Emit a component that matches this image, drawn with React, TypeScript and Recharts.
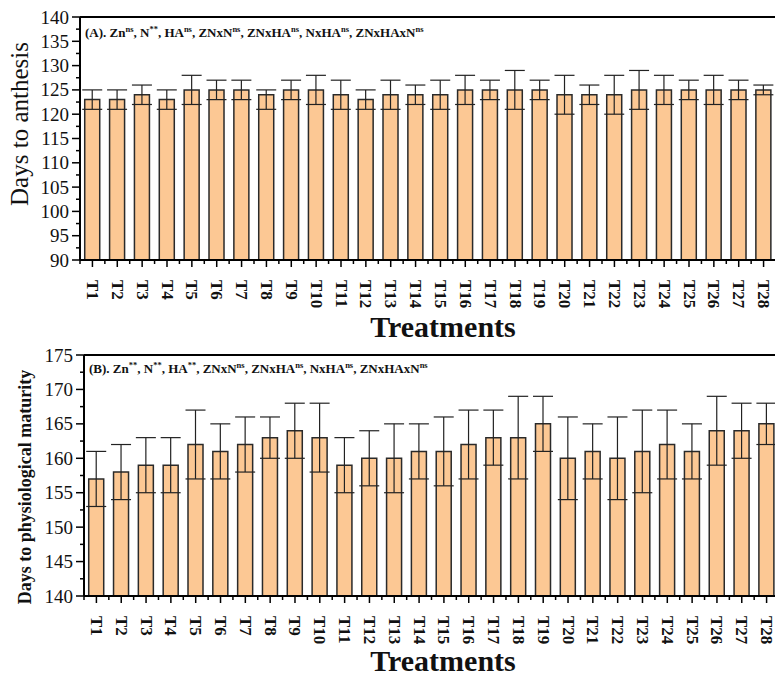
import { BarChart, Bar, XAxis, YAxis, ErrorBar, ReferenceLine } from "recharts";

const treatments = [
  "T1", "T2", "T3", "T4", "T5", "T6", "T7", "T8", "T9", "T10", "T11", "T12", "T13", "T14",
  "T15", "T16", "T17", "T18", "T19", "T20", "T21", "T22", "T23", "T24", "T25", "T26", "T27", "T28",
];

// (A) days to anthesis
const anthesis = [
  123, 123, 124, 123, 125, 125, 125, 124, 125, 125, 124, 123, 124, 124,
  124, 125, 125, 125, 125, 124, 124, 124, 125, 125, 125, 125, 125, 125,
];
// [lower, upper]
const anthesisErr = [
  [2, 2], [2, 2], [2, 2], [2, 2], [3, 3], [2, 2], [2, 2], [3, 1], [2, 2], [3, 3], [3, 3], [2, 2], [3, 3], [2, 2],
  [3, 3], [3, 3], [2, 2], [4, 4], [2, 2], [4, 4], [2, 2], [4, 4], [4, 4], [3, 3], [2, 2], [3, 3], [2, 2], [1, 1],
];

// (B) days to physiological maturity
const maturity = [
  157, 158, 159, 159, 162, 161, 162, 163, 164, 163, 159, 160, 160, 161,
  161, 162, 163, 163, 165, 160, 161, 160, 161, 162, 161, 164, 164, 165,
];
const maturityErr = [
  [4, 4], [4, 4], [4, 4], [4, 4], [5, 5], [4, 4], [4, 4], [3, 3], [4, 4], [5, 5], [4, 4], [4, 4], [5, 5], [4, 4],
  [5, 5], [5, 5], [4, 4], [6, 6], [4, 4], [6, 6], [4, 4], [6, 6], [6, 6], [5, 5], [4, 4], [5, 5], [4, 4], [3, 3],
];

const anthesisTicks = [
  90, 92.5, 95, 97.5, 100, 102.5, 105, 107.5, 110, 112.5, 115, 117.5, 120, 122.5, 125, 127.5, 130, 132.5, 135, 137.5, 140,
];
const maturityTicks = [
  140, 142.5, 145, 147.5, 150, 152.5, 155, 157.5, 160, 162.5, 165, 167.5, 170, 172.5, 175,
];

const serif = '"Liberation Serif", "Times New Roman", serif';
const barFill = "#FCC894";

const anthesisData = treatments.map((t, i) => ({ name: t, value: anthesis[i], err: anthesisErr[i] }));
const maturityData = treatments.map((t, i) => ({ name: t, value: maturity[i], err: maturityErr[i] }));

const YTick = (props: any) => {
  const { x, y, payload } = props;
  const v = payload.value;
  const major = v % 5 === 0;
  return (
    <g>
      <line x1={x - (major ? 8 : 4)} x2={x} y1={y} y2={y} stroke="#000" strokeWidth={1.5} />
      {major && (
        <text x={x - 11} y={y} textAnchor="end" dominantBaseline="central" fontSize={19} fontFamily={serif} fill="#111">
          {v}
        </text>
      )}
    </g>
  );
};

const XTick = (props: any) => {
  const { x, y, payload, index } = props;
  const half = payload.offset || 12.4;
  return (
    <g>
      <line x1={x} x2={x} y1={y} y2={y + 7} stroke="#000" strokeWidth={1.5} />
      <line x1={x - half} x2={x - half} y1={y} y2={y + 4} stroke="#000" strokeWidth={1.5} />
      {index === treatments.length - 1 && (
        <line x1={x + half} x2={x + half} y1={y} y2={y + 4} stroke="#000" strokeWidth={1.5} />
      )}
      <text
        transform={`translate(${x},${y + 20}) rotate(90)`}
        textAnchor="start"
        dominantBaseline="central"
        fontSize={17}
        fontWeight="bold"
        fontFamily={serif}
        fill="#111"
      >
        {payload.value}
      </text>
    </g>
  );
};

function Panel({
  data,
  ticks,
  domain,
  width,
  height,
  margin,
}: {
  data: { name: string; value: number; err: number[] }[];
  ticks: number[];
  domain: [number, number];
  width: number;
  height: number;
  margin: { top: number; right: number; bottom: number; left: number };
}) {
  return (
    <BarChart width={width} height={height} data={data} margin={margin} barCategoryGap="19%">
      <XAxis
        dataKey="name"
        interval={0}
        height={60}
        tickSize={0}
        tickMargin={0}
        tick={<XTick />}
        axisLine={{ stroke: "#000", strokeWidth: 2 }}
        tickLine={false}
      />
      <YAxis
        domain={domain}
        ticks={ticks}
        width={60}
        tickSize={0}
        tickMargin={0}
        tick={<YTick />}
        interval={0}
        allowDataOverflow
        axisLine={{ stroke: "#000", strokeWidth: 2 }}
        tickLine={false}
      />
      <ReferenceLine y={domain[1]} stroke="#000" strokeWidth={2} />
      <Bar dataKey="value" fill={barFill} stroke="#2a2a2a" strokeWidth={1.5} isAnimationActive={false}>
        <ErrorBar dataKey="err" direction="y" width={10} stroke="#222" strokeWidth={1.2} />
      </Bar>
    </BarChart>
  );
}

export default function App() {
  return (
    <div
      style={{
        position: "absolute",
        left: 0,
        top: 0,
        width: 775,
        height: 677,
        overflow: "hidden",
        background: "#fff",
      }}
    >
      <div style={{ position: "absolute", left: 0, top: 0 }}>
        <Panel
          data={anthesisData}
          ticks={anthesisTicks}
          domain={[90, 140]}
          width={776}
          height={340}
          margin={{ top: 17, right: 0, bottom: 20, left: 20 }}
        />
      </div>
      <div style={{ position: "absolute", left: 0, top: 340 }}>
        <Panel
          data={maturityData}
          ticks={maturityTicks}
          domain={[140, 175]}
          width={779}
          height={337}
          margin={{ top: 15, right: 0, bottom: 21, left: 24 }}
        />
      </div>
      <svg
        width={775}
        height={677}
        style={{ position: "absolute", left: 0, top: 0, pointerEvents: "none" }}
        fontFamily={serif}
        fill="#111"
      >
        <text x={85} y={37} fontSize={13} fontWeight="bold">
          (A). Zn<tspan fontSize={8.5} dy={-5}>ns</tspan>
          <tspan dy={5}>, N</tspan><tspan fontSize={8.5} dy={-5}>**</tspan>
          <tspan dy={5}>, HA</tspan><tspan fontSize={8.5} dy={-5}>ns</tspan>
          <tspan dy={5}>, ZNxN</tspan><tspan fontSize={8.5} dy={-5}>ns</tspan>
          <tspan dy={5}>, ZNxHA</tspan><tspan fontSize={8.5} dy={-5}>ns</tspan>
          <tspan dy={5}>, NxHA</tspan><tspan fontSize={8.5} dy={-5}>ns</tspan>
          <tspan dy={5}>, ZNxHAxN</tspan><tspan fontSize={8.5} dy={-5}>ns</tspan>
        </text>
        <text x={89} y={373} fontSize={13} fontWeight="bold">
          (B). Zn<tspan fontSize={8.5} dy={-5}>**</tspan>
          <tspan dy={5}>, N</tspan><tspan fontSize={8.5} dy={-5}>**</tspan>
          <tspan dy={5}>, HA</tspan><tspan fontSize={8.5} dy={-5}>**</tspan>
          <tspan dy={5}>, ZNxN</tspan><tspan fontSize={8.5} dy={-5}>ns</tspan>
          <tspan dy={5}>, ZNxHA</tspan><tspan fontSize={8.5} dy={-5}>ns</tspan>
          <tspan dy={5}>, NxHA</tspan><tspan fontSize={8.5} dy={-5}>ns</tspan>
          <tspan dy={5}>, ZNxHAxN</tspan><tspan fontSize={8.5} dy={-5}>ns</tspan>
        </text>
        <text transform="translate(28,124) rotate(-90)" textAnchor="middle" fontSize={25}>
          Days to anthesis
        </text>
        <text transform="translate(31,487) rotate(-90)" textAnchor="middle" fontSize={18} fontWeight="bold">
          Days to physiological maturity
        </text>
        <text x={443} y={337} textAnchor="middle" fontSize={30} fontWeight="bold">
          Treatments
        </text>
        <text x={443} y={671} textAnchor="middle" fontSize={30} fontWeight="bold">
          Treatments
        </text>
      </svg>
    </div>
  );
}
